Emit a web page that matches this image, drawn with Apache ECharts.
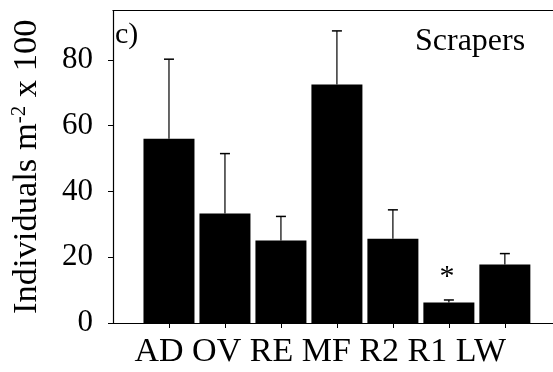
<!DOCTYPE html>
<html>
<head>
<meta charset="utf-8">
<script src="https://cdn.jsdelivr.net/npm/echarts@6/dist/echarts.min.js"></script>
<style>
html,body{margin:0;padding:0;background:#fff;}
#chart{width:553px;height:372px;}
</style>
</head>
<body>
<div id="chart"></div>
<script>
const categories = ['AD', 'OV', 'RE', 'MF', 'R2', 'R1', 'LW'];
const means = [56.0, 33.3, 25.1, 72.5, 25.6, 6.2, 17.8];
const upperErr = [80.2, 51.5, 32.4, 88.8, 34.4, 7.0, 21.1];
const signif = ['', '', '', '', '', '*', ''];
const yTicks = [0, 20, 40, 60, 80];

const FONT = 'Liberation Serif';
const idx = categories.map((c, i) => i);

const chart = echarts.init(document.getElementById('chart'), null, {renderer: 'canvas'});
chart.setOption({
  animation: false,
  backgroundColor: '#fff',
  grid: {left: 113, right: 0, top: 10.5, bottom: 49, containLabel: false, outerBoundsMode: 'none'},
  xAxis: [{
    type: 'value',
    min: -1,
    max: 6.86,
    splitLine: {show: false},
    axisLine: {show: true, onZero: false, lineStyle: {color: '#000', width: 1.2}},
    axisTick: {show: true, customValues: idx, length: 5, lineStyle: {color: '#000', width: 1}},
    axisLabel: {show: false}
  }, {
    type: 'value',
    position: 'top',
    min: -1,
    max: 6.86,
    splitLine: {show: false},
    axisLine: {show: true, onZero: false, lineStyle: {color: '#000', width: 1.2}},
    axisTick: {show: false},
    axisLabel: {show: false}
  }],
  yAxis: {
    type: 'value',
    position: 'left',
    min: 0,
    max: 95,
    interval: 20,
    splitLine: {show: false},
    axisLine: {show: true, onZero: false, lineStyle: {color: '#000', width: 1.2}},
    axisTick: {show: true, customValues: yTicks, length: 5, lineStyle: {color: '#000', width: 1}},
    axisLabel: {customValues: yTicks, margin: 20, fontFamily: FONT, fontSize: 31, color: '#000'},
    name: '{a|Individuals m}{s|-2}{a| x 100}',
    nameLocation: 'middle',
    nameGap: 69,
    nameRotate: 90,
    nameTextStyle: {
      rich: {
        a: {fontFamily: FONT, fontSize: 34.5, color: '#000'},
        s: {fontFamily: FONT, fontSize: 21, color: '#000', verticalAlign: 'top', padding: [0, 0, 14, 0]}
      }
    }
  },
  graphic: [
    {type: 'text', left: 115, top: 20, style: {text: 'c)', font: '30px "Liberation Serif"', fill: '#000'}},
    {type: 'text', left: 415, top: 26, style: {text: 'Scrapers', font: '32px "Liberation Serif"', fill: '#000'}},
    {type: 'text', left: 134.5, top: 335, style: {text: categories.join(' '), font: '34px "Liberation Serif"', fill: '#000'}}
  ],
  series: [{
    type: 'bar',
    barWidth: 51,
    itemStyle: {color: '#000'},
    data: means.map((v, i) => [i, v])
  }, {
    type: 'custom',
    z: 3,
    data: means.map((v, i) => [i, v, upperErr[i], signif[i]]),
    renderItem: function (params, api) {
      const x = api.value(0);
      const bot = api.coord([x, api.value(1)]);
      const top = api.coord([x, api.value(2)]);
      const hw = 5;
      const children = [
        {type: 'line', shape: {x1: bot[0], y1: bot[1], x2: top[0], y2: top[1]}, style: {stroke: '#000', lineWidth: 1.2}},
        {type: 'line', shape: {x1: top[0] - hw, y1: top[1], x2: top[0] + hw, y2: top[1]}, style: {stroke: '#000', lineWidth: 1.5}}
      ];
      const s = signif[params.dataIndex];
      if (s) {
        children.push({type: 'text', x: top[0] - 2, y: top[1] - 8, style: {text: s, font: '30px "Liberation Serif"', fill: '#000', align: 'center', verticalAlign: 'bottom'}});
      }
      return {type: 'group', children: children};
    }
  }]
});
</script>
</body>
</html>
